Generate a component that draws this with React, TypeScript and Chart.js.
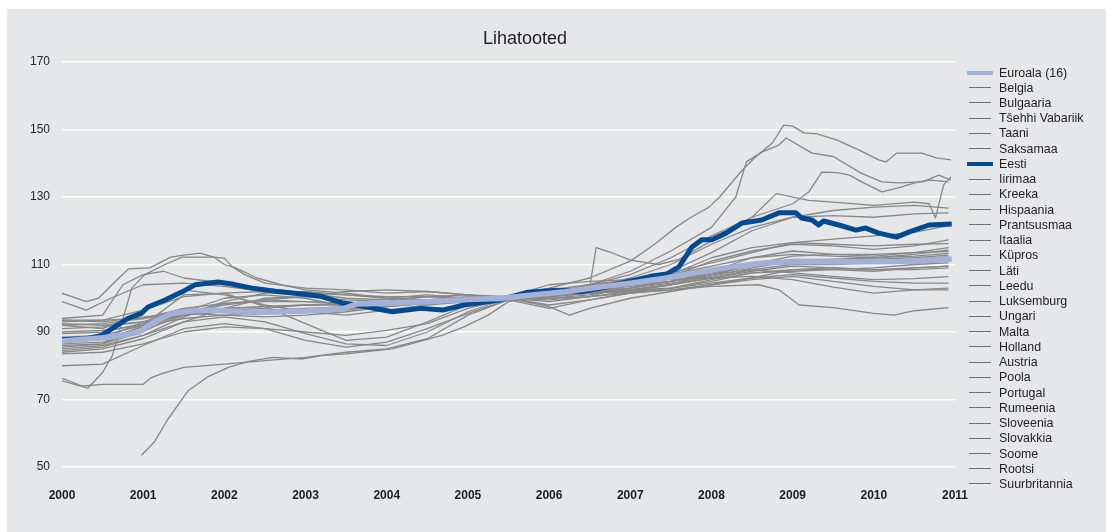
import React, { useEffect, useRef } from 'react';
import { Chart, registerables } from 'chart.js';

Chart.register(...registerables);

type P = [number, number];

const TITLE = 'Lihatooted';
const X_TICKS_MIN = 2000;
const X_TICKS_MAX = 2011;
const Y_MIN = 50;
const Y_MAX = 170;
const Y_STEP = 20;

const EUROALA: P[] = [[2000, 87.3], [2000.5, 88.3], [2000.8, 89.3], [2000.95, 90], [2001.14, 93], [2001.35, 95.5], [2001.6, 96.3], [2001.9, 96.5], [2002.3, 95.7], [2002.7, 96], [2003, 96.2], [2003.45, 96.8], [2003.63, 98.3], [2004, 98.5], [2004.5, 99], [2005, 99.6], [2005.39, 99.9], [2005.8, 101], [2006.2, 101.9], [2006.62, 103.3], [2007.02, 104.5], [2007.44, 106], [2007.85, 107.8], [2008.25, 109.3], [2008.67, 110.5], [2009.08, 110.8], [2009.5, 110.8], [2010, 110.8], [2010.3, 110.9], [2010.71, 111.3], [2010.96, 111.6]];

const EESTI: P[] = [[2000, 87.7], [2000.3, 88], [2000.49, 89], [2000.65, 91.5], [2000.81, 94], [2000.98, 95.6], [2001.06, 97.4], [2001.27, 99.5], [2001.48, 101.9], [2001.64, 104], [2001.92, 104.8], [2002.09, 104.2], [2002.34, 103], [2002.62, 102.1], [2002.99, 101.2], [2003.2, 100.5], [2003.45, 98.6], [2003.63, 98], [2004.07, 96], [2004.42, 97], [2004.69, 96.5], [2004.95, 98], [2005.39, 99.5], [2005.74, 101.8], [2006.09, 102.4], [2006.4, 102], [2006.6, 102.8], [2007.02, 105.2], [2007.25, 106.5], [2007.45, 107.2], [2007.6, 109.3], [2007.76, 115.2], [2007.88, 117.3], [2008.0, 117.3], [2008.18, 119.3], [2008.38, 122.3], [2008.62, 123.2], [2008.83, 125.3], [2009.04, 125.3], [2009.11, 123.8], [2009.24, 123.2], [2009.32, 121.7], [2009.38, 122.9], [2009.57, 121.7], [2009.78, 120.2], [2009.9, 120.8], [2010.06, 119.3], [2010.28, 118.1], [2010.43, 119.6], [2010.68, 121.7], [2010.96, 122]];

const BELGIA: P[] = [[2000, 93.5], [2000.5, 93.5], [2001, 94], [2001.5, 97], [2002, 98.5], [2002.5, 99], [2003, 99], [2003.5, 98.5], [2004, 99], [2004.5, 99.5], [2005, 99.5], [2005.5, 100], [2006, 101], [2006.5, 102], [2007, 103], [2007.5, 104.5], [2008, 106.5], [2008.5, 109], [2009, 111], [2009.5, 111], [2010, 110.5], [2010.5, 111], [2010.92, 111.8]];
const BULGAARIA: P[] = [[2000, 85], [2000.5, 86], [2001, 89], [2001.5, 93], [2002, 94.5], [2002.5, 93], [2003, 89.5], [2003.5, 86.5], [2004, 86], [2004.5, 90], [2005, 96], [2005.5, 100], [2006, 102.5], [2006.5, 103.3], [2006.58, 115], [2006.75, 113.7], [2007, 111.3], [2007.35, 110], [2007.6, 111.5], [2008, 117], [2008.5, 124], [2009, 128], [2009.2, 131.5], [2009.36, 137.4], [2009.55, 137.2], [2009.7, 136.5], [2009.85, 134.5], [2010.1, 131.5], [2010.3, 132.7], [2010.55, 134.5], [2010.7, 135], [2010.92, 134.5]];
const TSEHHI: P[] = [[2000, 92], [2000.5, 91], [2001, 96], [2001.5, 102.5], [2002, 101], [2002.5, 98], [2003, 96], [2003.5, 95], [2004, 96.5], [2004.5, 98], [2005, 99], [2005.5, 100], [2006, 100], [2006.5, 101], [2007, 103], [2007.5, 106.5], [2008, 111], [2008.5, 114], [2009, 116], [2009.5, 115.5], [2010, 114.5], [2010.5, 115.5], [2010.92, 117.3]];
const TAANI: P[] = [[2000, 93.5], [2000.5, 93], [2001, 94.5], [2001.5, 95.5], [2002, 95], [2002.5, 94.5], [2003, 95], [2003.5, 96], [2004, 97.5], [2004.5, 99], [2005, 100], [2005.5, 100], [2006, 101.5], [2006.5, 103], [2007, 104], [2007.5, 105], [2008, 107], [2008.5, 108.5], [2009, 107.5], [2009.5, 106.5], [2010, 105.5], [2010.5, 105.8], [2010.92, 106.4]];
const SAKSAMAA: P[] = [[2000, 88], [2000.5, 88], [2001, 93], [2001.5, 97], [2002, 96.5], [2002.5, 96], [2003, 96.5], [2003.5, 97], [2004, 98], [2004.5, 99], [2005, 99.5], [2005.5, 100], [2006, 100.5], [2006.5, 101.5], [2007, 102], [2007.5, 103], [2008, 105.5], [2008.5, 107.5], [2009, 108.5], [2009.5, 108.5], [2010, 108], [2010.5, 109], [2010.92, 109.5]];
const IIRIMAA: P[] = [[2000, 87], [2000.5, 88], [2001, 91.5], [2001.5, 96], [2002, 98], [2002.5, 99.5], [2003, 100.5], [2003.5, 102], [2004, 102.5], [2004.5, 102], [2005, 101], [2005.5, 100.5], [2006, 104], [2006.5, 105], [2007, 105.5], [2007.5, 105.5], [2008, 106], [2008.5, 106.5], [2009, 105.5], [2009.5, 103.3], [2010, 101.5], [2010.5, 102.5], [2010.92, 103]];
const KREEKA: P[] = [[2000, 84], [2000.5, 85], [2001, 88], [2001.5, 93], [2002, 97], [2002.5, 100], [2003, 100.5], [2003.5, 99.5], [2004, 99], [2004.5, 98.5], [2005, 99], [2005.5, 100], [2006, 102.5], [2006.5, 104], [2007, 105.5], [2007.5, 107], [2008, 109.5], [2008.5, 112], [2009, 113], [2009.5, 112.5], [2010, 112], [2010.5, 113], [2010.92, 114.3]];
const HISPAANIA: P[] = [[2000, 86], [2000.5, 86.5], [2001, 90], [2001.5, 96], [2002, 100], [2002.5, 101], [2003, 100], [2003.5, 97.5], [2004, 98], [2004.5, 99], [2005, 99.5], [2005.5, 100], [2006, 101], [2006.5, 102.5], [2007, 104], [2007.5, 105], [2008, 108], [2008.5, 110], [2009, 111.5], [2009.5, 111.5], [2010, 111.5], [2010.5, 112], [2010.92, 112.8]];
const PRANTSUSMAA: P[] = [[2000, 88.5], [2000.5, 89], [2001, 92], [2001.5, 95], [2002, 96], [2002.5, 96.5], [2003, 97], [2003.5, 97.5], [2004, 98.5], [2004.5, 99], [2005, 99.5], [2005.5, 100], [2006, 100.5], [2006.5, 101.5], [2007, 102.5], [2007.5, 104], [2008, 106], [2008.5, 108], [2009, 109.5], [2009.5, 109], [2010, 108.5], [2010.5, 108.5], [2010.92, 109]];
const ITAALIA: P[] = [[2000, 89.5], [2000.5, 90], [2001, 92.5], [2001.5, 95.5], [2002, 97], [2002.5, 97.5], [2003, 98], [2003.5, 98.5], [2004, 99], [2004.5, 99.5], [2005, 99.5], [2005.5, 100], [2006, 100.5], [2006.5, 101.5], [2007, 102.5], [2007.5, 104], [2008, 106], [2008.5, 108.5], [2009, 110], [2009.5, 110], [2010, 110.5], [2010.5, 110.5], [2010.92, 111]];
const KYPROS: P[] = [[2000, 101.5], [2000.3, 99], [2000.45, 100], [2000.65, 104.8], [2000.82, 108.7], [2001.08, 109], [2001.2, 110.5], [2001.34, 112.2], [2001.5, 112.8], [2001.7, 113.4], [2001.87, 112.2], [2002, 111.9], [2002.1, 109.3], [2002.25, 107], [2002.5, 104.5], [2003, 103], [2003.5, 102.5], [2004, 101.5], [2004.5, 102], [2005, 101], [2005.5, 100], [2006, 102], [2006.5, 103.5], [2007, 105.5], [2007.5, 107.5], [2008, 110.5], [2008.5, 113.5], [2009, 116.5], [2009.5, 116], [2010, 115.5], [2010.5, 116], [2010.92, 116.2]];
const LATI: P[] = [[2000, 83.5], [2000.5, 84], [2001, 86.5], [2001.5, 90], [2002, 91.5], [2002.5, 91], [2003, 90], [2003.5, 89], [2004, 90.5], [2004.5, 92.5], [2005, 97], [2005.5, 100], [2006, 103], [2006.5, 106], [2007, 111], [2007.3, 116], [2007.56, 121], [2007.75, 124], [2007.97, 127], [2008.1, 130], [2008.38, 138], [2008.55, 142], [2008.75, 146], [2008.89, 151.3], [2009.0, 151], [2009.14, 149], [2009.3, 148.7], [2009.54, 146.9], [2009.82, 143.9], [2010.06, 141], [2010.15, 140.4], [2010.28, 143], [2010.59, 143], [2010.77, 141.6], [2010.95, 141]];
const LEEDU: P[] = [[2000, 99], [2000.3, 96.5], [2000.6, 100], [2001, 104], [2001.5, 104.5], [2002, 103.5], [2002.5, 102], [2003, 101], [2003.5, 99], [2004, 97.5], [2004.5, 98.5], [2005, 99.5], [2005.5, 100], [2006, 101.5], [2006.5, 104], [2007, 108], [2007.5, 114], [2008, 121], [2008.3, 130], [2008.43, 140.4], [2008.62, 143.3], [2008.83, 145.4], [2008.92, 147.5], [2009.24, 143], [2009.5, 142], [2009.85, 137], [2010.1, 134.5], [2010.3, 134.2], [2010.6, 134.5], [2010.8, 136.5], [2010.95, 135]];
const LUKSEMBURG: P[] = [[2000, 92], [2000.5, 92.5], [2001, 94], [2001.5, 96], [2002, 97], [2002.5, 97.5], [2003, 98], [2003.5, 98.5], [2004, 98.5], [2004.5, 99], [2005, 99.5], [2005.5, 100], [2006, 100.5], [2006.5, 102], [2007, 103.5], [2007.5, 105], [2008, 107.5], [2008.5, 109.5], [2009, 111], [2009.5, 111.5], [2010, 112], [2010.5, 112.5], [2010.92, 113.3]];
const UNGARI: P[] = [[2000, 80], [2000.5, 80.5], [2001, 86], [2001.5, 91], [2002, 92.5], [2002.5, 91], [2003, 87.5], [2003.5, 85.5], [2004, 87], [2004.5, 91], [2005, 95.5], [2005.5, 99.5], [2006, 102], [2006.5, 103], [2007, 106], [2007.5, 110], [2008, 116], [2008.5, 121], [2009, 124], [2009.5, 126], [2010, 127], [2010.5, 127.5], [2010.92, 126.7]];
const MALTA: P[] = [[2000, 91], [2000.5, 91.5], [2001, 93], [2001.5, 95], [2002, 96.5], [2002.5, 97], [2003, 98], [2003.5, 98], [2004, 99], [2004.5, 100.5], [2005, 101], [2005.5, 100], [2006, 101], [2006.5, 101.5], [2007, 103], [2007.5, 105], [2008, 107], [2008.5, 110], [2009, 112.5], [2009.5, 113], [2010, 113], [2010.5, 113.5], [2010.92, 113.8]];
const HOLLAND: P[] = [[2000, 93], [2000.5, 93.5], [2001, 96.5], [2001.5, 100.5], [2002, 101.5], [2002.5, 102], [2003, 101.5], [2003.5, 101], [2004, 100.5], [2004.5, 100.5], [2005, 100], [2005.5, 100], [2006, 101.5], [2006.5, 102], [2007, 102.5], [2007.5, 103], [2008, 104.5], [2008.5, 106], [2009, 107], [2009.5, 106], [2010, 105], [2010.5, 104.5], [2010.92, 104.5]];
const AUSTRIA: P[] = [[2000, 86.5], [2000.5, 87], [2001, 90.5], [2001.5, 95], [2002, 96.5], [2002.5, 96], [2003, 96], [2003.5, 96.5], [2004, 98], [2004.5, 99], [2005, 99.5], [2005.5, 100], [2006, 100.5], [2006.5, 101.5], [2007, 102.5], [2007.5, 104], [2008, 107], [2008.5, 109.5], [2009, 111], [2009.5, 110.5], [2010, 110.5], [2010.5, 111.5], [2010.92, 112.3]];
const POOLA: P[] = [[2000, 85.5], [2000.5, 86.5], [2001, 92], [2001.5, 101], [2002, 101.5], [2002.5, 97.5], [2003, 92.5], [2003.5, 87.5], [2004, 88.5], [2004.5, 93], [2005, 98], [2005.5, 100], [2006, 99], [2006.5, 100.5], [2007, 104], [2007.5, 107], [2008, 112], [2008.5, 115], [2009, 116.5], [2009.5, 117.5], [2010, 118.5], [2010.5, 119.5], [2010.92, 121.5]];
const PORTUGAL: P[] = [[2000, 94], [2000.5, 95], [2000.75, 104], [2001, 107], [2001.25, 108], [2001.5, 106], [2002, 104.5], [2002.5, 103], [2003, 101.5], [2003.5, 100], [2004, 99.5], [2004.5, 100.5], [2005, 100], [2005.5, 100], [2006, 98], [2006.5, 99.5], [2007, 101.5], [2007.5, 103], [2008, 105], [2008.5, 107.5], [2009, 108], [2009.5, 108.5], [2010, 109], [2010.5, 110], [2010.92, 110.5]];
const RUMEENIA: P[] = [[2000.98, 53.5], [2001.14, 57.5], [2001.3, 64], [2001.55, 72.5], [2001.8, 76.8], [2002.05, 79.5], [2002.3, 81.3], [2002.6, 82.5], [2002.95, 82], [2003.2, 83], [2003.5, 83.5], [2004.07, 85], [2004.33, 86.7], [2004.69, 89.1], [2004.95, 91.5], [2005.25, 95], [2005.5, 99], [2006, 101], [2006.5, 104], [2007, 107], [2007.5, 112], [2008, 118.5], [2008.5, 124], [2008.8, 131], [2009.2, 129], [2009.5, 128.5], [2010, 127.5], [2010.5, 128.5], [2010.68, 128], [2010.76, 123.8], [2010.86, 133.6], [2010.95, 136]];
const SLOVEENIA: P[] = [[2000, 84.5], [2000.5, 85.5], [2001, 89], [2001.5, 94.5], [2002, 98.5], [2002.5, 99.5], [2003, 99], [2003.5, 98.5], [2004, 98.5], [2004.5, 99], [2005, 99.5], [2005.5, 100], [2006, 101.5], [2006.5, 103], [2007, 105], [2007.5, 108], [2008, 113.5], [2008.5, 120], [2009, 124], [2009.5, 124.5], [2010, 124], [2010.5, 125], [2010.92, 125.3]];
const SLOVAKKIA: P[] = [[2000, 75.5], [2000.32, 73.4], [2000.5, 78], [2000.62, 83], [2000.74, 93], [2000.86, 103], [2001.02, 107], [2001.27, 110], [2001.48, 112.2], [2001.87, 112.2], [2002, 110], [2002.14, 109], [2002.4, 106], [2002.7, 104], [2003, 102.5], [2003.5, 101.5], [2004, 100], [2004.5, 101], [2005, 100], [2005.5, 100], [2006, 99.5], [2006.5, 100.5], [2007, 102], [2007.5, 104], [2008, 108], [2008.5, 112], [2009, 114], [2009.5, 113], [2010, 112.5], [2010.5, 113.5], [2010.92, 115]];
const SOOME: P[] = [[2000, 90], [2000.5, 90.5], [2001, 92], [2001.5, 94], [2002, 95], [2002.5, 95.5], [2003, 96.5], [2003.5, 97], [2004, 97.5], [2004.5, 98.5], [2005, 99.5], [2005.5, 100], [2006, 97.5], [2006.25, 95], [2006.5, 97], [2007, 100], [2007.5, 102], [2008, 104], [2008.5, 105.5], [2009, 106.5], [2009.5, 105], [2010, 103.5], [2010.5, 102.5], [2010.92, 102.5]];
const ROOTSI: P[] = [[2000, 92.5], [2000.5, 92], [2001, 93], [2001.5, 95], [2002, 99], [2002.5, 101.5], [2003, 102], [2003.5, 101], [2004, 100], [2004.5, 99.5], [2005, 100.5], [2005.5, 100.5], [2006, 100], [2006.5, 100.5], [2007, 101.5], [2007.5, 102.5], [2008, 104], [2008.5, 106], [2009, 108.5], [2009.5, 109], [2010, 108.5], [2010.5, 109], [2010.92, 109.5]];
const SUURBRITANNIA: P[] = [[2000, 76.3], [2000.25, 74], [2000.5, 74.5], [2001, 74.5], [2001.1, 76.5], [2001.25, 77.8], [2001.5, 79.5], [2002, 80.5], [2002.5, 81.5], [2003, 82.5], [2003.5, 84], [2004, 85], [2004.5, 88], [2005, 95], [2005.5, 99.5], [2006, 97], [2006.5, 99.5], [2007, 101.5], [2007.5, 102.5], [2008, 103.5], [2008.58, 104], [2008.83, 102.5], [2009.08, 98], [2009.5, 97.2], [2010, 95.5], [2010.25, 95], [2010.5, 96.3], [2010.92, 97.2]];

const SERIES: { label: string; data: P[]; kind: 'euro' | 'ee' | 'grey' }[] = [
  { label: 'Euroala (16)', data: EUROALA, kind: 'euro' },
  { label: 'Belgia', data: BELGIA, kind: 'grey' },
  { label: 'Bulgaaria', data: BULGAARIA, kind: 'grey' },
  { label: 'Tšehhi Vabariik', data: TSEHHI, kind: 'grey' },
  { label: 'Taani', data: TAANI, kind: 'grey' },
  { label: 'Saksamaa', data: SAKSAMAA, kind: 'grey' },
  { label: 'Eesti', data: EESTI, kind: 'ee' },
  { label: 'Iirimaa', data: IIRIMAA, kind: 'grey' },
  { label: 'Kreeka', data: KREEKA, kind: 'grey' },
  { label: 'Hispaania', data: HISPAANIA, kind: 'grey' },
  { label: 'Prantsusmaa', data: PRANTSUSMAA, kind: 'grey' },
  { label: 'Itaalia', data: ITAALIA, kind: 'grey' },
  { label: 'Küpros', data: KYPROS, kind: 'grey' },
  { label: 'Läti', data: LATI, kind: 'grey' },
  { label: 'Leedu', data: LEEDU, kind: 'grey' },
  { label: 'Luksemburg', data: LUKSEMBURG, kind: 'grey' },
  { label: 'Ungari', data: UNGARI, kind: 'grey' },
  { label: 'Malta', data: MALTA, kind: 'grey' },
  { label: 'Holland', data: HOLLAND, kind: 'grey' },
  { label: 'Austria', data: AUSTRIA, kind: 'grey' },
  { label: 'Poola', data: POOLA, kind: 'grey' },
  { label: 'Portugal', data: PORTUGAL, kind: 'grey' },
  { label: 'Rumeenia', data: RUMEENIA, kind: 'grey' },
  { label: 'Sloveenia', data: SLOVEENIA, kind: 'grey' },
  { label: 'Slovakkia', data: SLOVAKKIA, kind: 'grey' },
  { label: 'Soome', data: SOOME, kind: 'grey' },
  { label: 'Rootsi', data: ROOTSI, kind: 'grey' },
  { label: 'Suurbritannia', data: SUURBRITANNIA, kind: 'grey' },
];

const COLORS = { euro: '#a3b1d9', ee: '#004a92', grey: '#888888' };
const WIDTHS = { euro: 5.5, ee: 5, grey: 1.3 };
const ORDERS = { euro: 0, ee: 1, grey: 2 };
const FONT = '"Liberation Sans", Arial, Helvetica, sans-serif';

export default function App() {
  const ref = useRef<HTMLCanvasElement | null>(null);
  useEffect(() => {
    if (!ref.current) return;
    const chart = new Chart(ref.current, {
      type: 'line',
      data: {
        datasets: SERIES.map((s) => ({
          label: s.label,
          data: s.data.map(([x, y]) => ({ x, y })),
          borderColor: COLORS[s.kind],
          backgroundColor: COLORS[s.kind],
          borderWidth: WIDTHS[s.kind],
          order: ORDERS[s.kind],
          pointRadius: 0,
          tension: 0,
          fill: false,
          borderJoinStyle: 'round' as const,
        })),
      },
      options: {
        animation: false,
        responsive: false,
        devicePixelRatio: 1,
        layout: { padding: { left: 0, right: 151, top: 62, bottom: 25 } },
        plugins: { legend: { display: false }, title: { display: false }, tooltip: { enabled: false } },
        scales: {
          x: {
            type: 'linear',
            min: X_TICKS_MIN,
            max: X_TICKS_MAX,
            afterFit: (s: any) => { s.height = 40; },
            grid: { display: false },
            border: { display: false },
            ticks: {
              stepSize: 1,
              autoSkip: false,
              maxRotation: 0,
              padding: 13,
              color: '#1e1e1e',
              font: { family: FONT, size: 12, weight: 'bold' },
              callback: (v: any) => String(v),
            },
          },
          y: {
            type: 'linear',
            min: Y_MIN,
            max: Y_MAX,
            afterFit: (s: any) => { s.width = 62; },
            grid: { color: '#ffffff', lineWidth: 1.5, drawTicks: false },
            border: { display: false },
            ticks: {
              stepSize: Y_STEP,
              padding: 12,
              color: '#2a2a2a',
              font: { family: FONT, size: 12 },
            },
          },
        },
      },
    });
    return () => chart.destroy();
  }, []);

  return (
    <div style={{ position: 'absolute', left: 0, top: 0, width: 1106, height: 532, overflow: 'hidden', fontFamily: FONT }}>
      <div style={{ position: 'absolute', left: 7, top: 9, width: 1099, height: 523, background: '#e6e7e9' }} />
      <canvas ref={ref} width={1106} height={532} style={{ position: 'absolute', left: 0, top: 0, width: 1106, height: 532 }} />
      <div style={{ position: 'absolute', left: 425, top: 27, width: 200, textAlign: 'center', fontSize: 18, color: '#231f20', lineHeight: '22px' }}>{TITLE}</div>
      {SERIES.map((s, i) => (
        <div key={s.label} style={{ position: 'absolute', left: 967, top: 64.5 + i * 15.24, height: 16, display: 'flex', alignItems: 'center', whiteSpace: 'nowrap' }}>
          <div style={{ width: s.kind === 'grey' ? 22 : 26, marginLeft: s.kind === 'grey' ? 2 : 0, height: s.kind === 'grey' ? 1 : 4, background: s.kind === 'grey' ? '#6f6f6f' : COLORS[s.kind], marginRight: s.kind === 'grey' ? 8 : 6 }} />
          <span style={{ fontSize: 12.4, color: '#231f20', lineHeight: '16px' }}>{s.label}</span>
        </div>
      ))}
    </div>
  );
}
